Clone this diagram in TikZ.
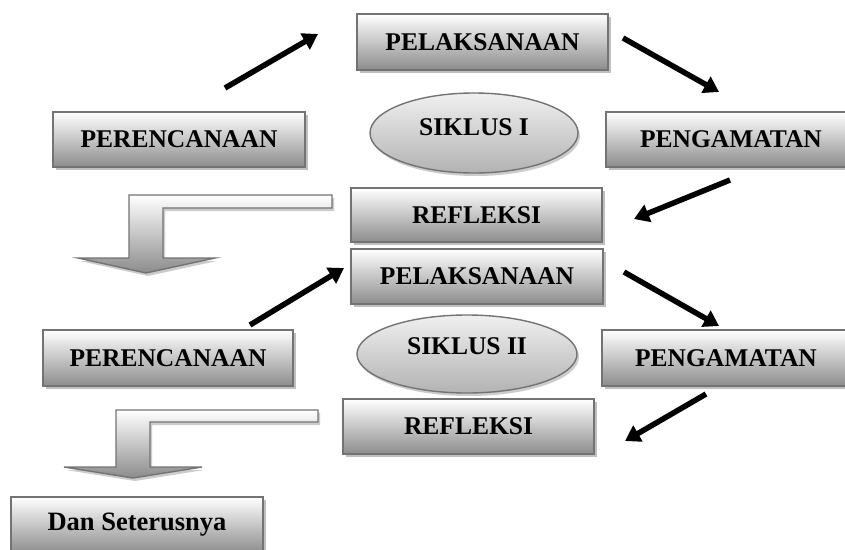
\documentclass[tikz,border=0pt]{standalone}
\usepackage{fontspec}
\setmainfont{Liberation Serif}
\usetikzlibrary{shapes.geometric,shadows,arrows.meta}
\tikzset{
  box/.style={draw=black!55, line width=1.4pt, top color=white, bottom color=black!45,
    font=\fontsize{25.5}{30}\selectfont\bfseries, inner sep=0pt,
    drop shadow={shadow xshift=2.5pt, shadow yshift=-3pt, fill=black!25, opacity=1}},
  oval/.style={ellipse, draw=black!55, line width=1.4pt, top color=black!6, bottom color=black!30,
    inner sep=0pt,
    drop shadow={shadow xshift=2pt, shadow yshift=-3pt, fill=black!20, opacity=1}},
  ovaltext/.style={font=\fontsize{25.5}{30}\selectfont\bfseries},
  blk/.style={line width=5.5pt, -{Triangle[length=15pt,width=18pt]}},
  bendarrow/.style={draw=black!55, line width=1.4pt, top color=white, bottom color=black!45,
    drop shadow={shadow xshift=2pt, shadow yshift=-3pt, fill=black!20, opacity=1}}
}
\begin{document}
\begin{tikzpicture}[x=1pt,y=-1pt]
\clip (0,0) rectangle (845,549);
\fill[white] (0,0) rectangle (845,549);
% cycle I
\node[box, minimum width=251pt, minimum height=56pt] (pel1) at (482.5,42) {PELAKSANAAN};
\node[box, minimum width=252pt, minimum height=55pt] (per1) at (179,139.5) {PERENCANAAN};
\node[box, minimum width=250pt, minimum height=55pt] (peng1) at (731,139.5) {PENGAMATAN};
\node[box, minimum width=251pt, minimum height=54pt] (ref1) at (476.5,215) {REFLEKSI};
\node[oval, minimum width=208pt, minimum height=80pt] (sik1) at (474,133) {};
\node[ovaltext] (sik1t) at (474,127) {SIKLUS I};
% cycle II
\node[box, minimum width=252pt, minimum height=55pt] (pel2) at (477,276.5) {PELAKSANAAN};
\node[box, minimum width=250pt, minimum height=56pt] (per2) at (168,358) {PERENCANAAN};
\node[box, minimum width=248pt, minimum height=56pt] (peng2) at (726,358) {PENGAMATAN};
\node[box, minimum width=251pt, minimum height=55pt] (ref2) at (468.5,426.5) {REFLEKSI};
\node[oval, minimum width=220pt, minimum height=78pt] (sik2) at (467,354) {};
\node[ovaltext] (sik2t) at (467,346) {SIKLUS II};
% final
\node[box, minimum width=252pt, minimum height=56pt, font=\fontsize{26.5}{31}\selectfont\bfseries] (dan) at (137,525) {Dan Seterusnya};
% bent block arrows
\path[bendarrow] (129,195) -- (332,195) -- (332,208) -- (163,208) -- (163,258) -- (215,258)
  -- (146,273) -- (78,258) -- (129,258) -- cycle;
\path[bendarrow] (116,410) -- (318,410) -- (318,422) -- (150,422) -- (150,467) -- (202,467)
  -- (133,478) -- (64,467) -- (116,467) -- cycle;
% arrow end points
\coordinate (a1s) at (225,88);  \coordinate (a1e) at (318,34);
\coordinate (a2s) at (623,38);  \coordinate (a2e) at (719,92);
\coordinate (a3s) at (730,180); \coordinate (a3e) at (634,219);
\coordinate (a4s) at (250,325); \coordinate (a4e) at (344,268);
\coordinate (a5s) at (624,272); \coordinate (a5e) at (719,326);
\coordinate (a6s) at (706,394); \coordinate (a6e) at (625,441);
\draw[blk] (a1s) -- (a1e);
\draw[blk] (a2s) -- (a2e);
\draw[blk] (a3s) -- (a3e);
\draw[blk] (a4s) -- (a4e);
\draw[blk] (a5s) -- (a5e);
\draw[blk] (a6s) -- (a6e);
\end{tikzpicture}
\end{document}
